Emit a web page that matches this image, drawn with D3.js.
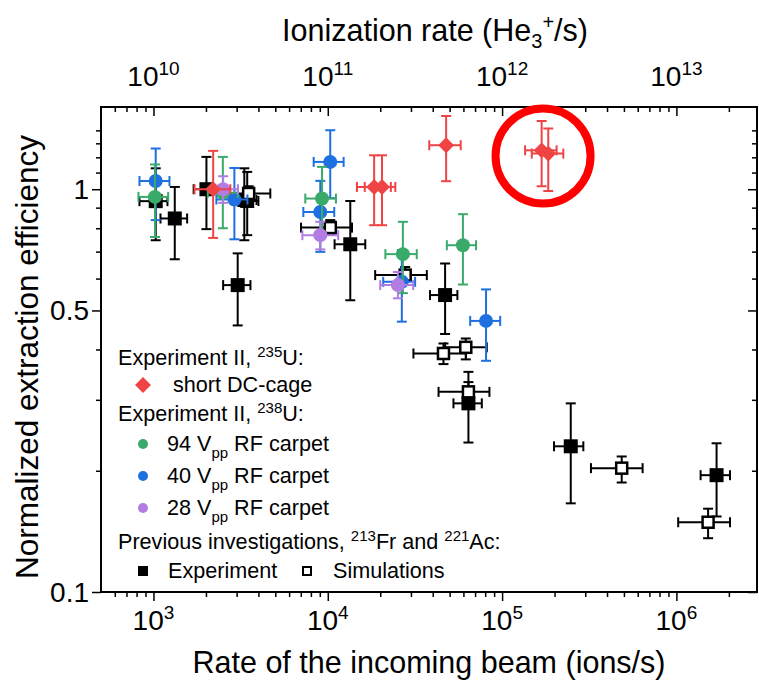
<!DOCTYPE html>
<html>
<head>
<meta charset="utf-8">
<script src="https://cdn.jsdelivr.net/npm/d3@7"></script>
<style>
body { margin: 0; background: #fff; }
text { font-family: "Liberation Sans", Arial, sans-serif; fill: #000; }
</style>
</head>
<body>
<div id="chart"></div>
<script>
// data, each row: [rate, efficiency, rate low, rate high, eff low, eff high]
var dcCage = [
    [2200, 1.0, 1720, 2760, 0.757, 1.245],
    [18450, 1.013, 14700, 23000, 0.814, 1.214],
    [20470, 1.013, 16300, 24400, 0.814, 1.214],
    [47750, 1.286, 38200, 57900, 1.047, 1.52],
    [168600, 1.249, 135500, 205500, 1.017, 1.477],
    [184000, 1.226, 148000, 224500, 0.99, 1.415]
]
var carpet94 = [
    [1020, 0.957, 820, 1214, 0.761, 1.152],
    [2500, 0.98, 2050, 3050, 0.8, 1.203],
    [9270, 0.948, 7430, 11140, 0.782, 1.136],
    [26970, 0.69, 21400, 32400, 0.552, 0.83],
    [59600, 0.726, 48200, 70900, 0.58, 0.867]
]
var carpet40 = [
    [1030, 1.048, 831, 1235, 0.838, 1.262],
    [2912, 0.943, 2296, 3460, 0.751, 1.129],
    [10330, 1.169, 8300, 12330, 0.95, 1.401],
    [9060, 0.878, 7240, 10890, 0.699, 1.049],
    [26600, 0.589, 20800, 31700, 0.469, 0.706],
    [80900, 0.471, 65600, 97500, 0.375, 0.564]
]
var carpet28 = [
    [2510, 1.0, 2200, 3050, 0.925, 1.077],
    [9060, 0.769, 7150, 11480, 0.709, 0.83],
    [25240, 0.578, 20000, 30900, 0.536, 0.623]
]
var prevExp = [
    [1030, 0.934, 831, 1203, 0.747, 1.127],
    [1325, 0.846, 1097, 1560, 0.67, 1.013],
    [2013, 1.0, 1700, 2390, 0.796, 1.203],
    [3320, 0.94, 3000, 3900, 0.747, 1.127],
    [3450, 0.935, 3150, 4000, 0.769, 1.104],
    [3042, 0.578, 2510, 3600, 0.459, 0.693],
    [13460, 0.73, 10940, 16410, 0.53, 0.935],
    [47100, 0.546, 38600, 55400, 0.437, 0.654],
    [64100, 0.294, 52600, 76500, 0.235, 0.332],
    [247700, 0.23, 198600, 292500, 0.166, 0.294],
    [1700000, 0.195, 1377000, 2030000, 0.154, 0.234]
]
var prevSim = [
    [3516, 0.976, 2620, 4680, 0.939, 1.017],
    [10340, 0.803, 7020, 13770, 0.773, 0.838],
    [27800, 0.612, 18700, 37000, 0.595, 0.641],
    [46100, 0.391, 31000, 62000, 0.368, 0.414],
    [61900, 0.405, 47100, 81700, 0.378, 0.426],
    [64100, 0.314, 43200, 84600, 0.298, 0.352],
    [485500, 0.203, 323500, 640000, 0.187, 0.217],
    [1520000, 0.149, 1024000, 2030000, 0.136, 0.161]
]

// axis labels
var bottomExps = [3, 4, 5, 6]
var topExps = [10, 11, 12, 13]
var yLabels = [0.1, 0.5, 1]
var yMinor = [0.2, 0.3, 0.4, 0.6, 0.7, 0.8, 0.9, 1.1, 1.2, 1.3, 1.4]
var ionFactor = 1e7

// circled point
var highlight = [171800, 1.209]

// colors
var red = '#f04444',
    green = '#3aaa6a',
    blue = '#1e6fe0',
    purple = '#b27de2'

// svg dimensions
var w = 759,
    h = 682,
    pl = 101,
    pr = 757,
    pt = 107,
    pb = 592

var svg = d3.select('#chart')
    .append('svg')
    .attr('width', w)
    .attr('height', h)

// scale
var xscale = d3.scaleLog()
    .domain([500, 2.9e6])
    .range([pl, pr])

var xtop = d3.scaleLog()
    .domain(xscale.domain().map(d => d * ionFactor))
    .range([pl, pr])

var yscale = d3.scaleLog()
    .domain([0.1, 1.6])
    .range([pb, pt])

var xmajor = bottomExps.map(e => Math.pow(10, e))
var xminor = xscale.ticks().filter(d => xmajor.indexOf(d) < 0 && d > 500)

// axis
function tickGroup(axis, tr) {
    var g = svg.append('g')
        .attr('transform', tr)
        .call(axis)
    g.select('.domain').remove()
    g.selectAll('line').attr('stroke-width', 1.5)
    return g
}

tickGroup(d3.axisBottom(xscale).tickValues(xmajor).tickSize(9).tickFormat(''), `translate(0,${pb})`)
tickGroup(d3.axisBottom(xscale).tickValues(xminor).tickSize(5).tickFormat(''), `translate(0,${pb})`)
tickGroup(d3.axisBottom(xtop).tickValues(xmajor.map(d => d * ionFactor)).tickSize(9).tickFormat(''), `translate(0,${pt})`)
tickGroup(d3.axisBottom(xtop).tickValues(xminor.map(d => d * ionFactor)).tickSize(5).tickFormat(''), `translate(0,${pt})`)
tickGroup(d3.axisLeft(yscale).tickValues(yLabels).tickSize(9).tickFormat(''), `translate(${pl},0)`)
tickGroup(d3.axisLeft(yscale).tickValues(yMinor).tickSize(5).tickFormat(''), `translate(${pl},0)`)
tickGroup(d3.axisRight(yscale).tickValues(yLabels).tickSize(-9).tickFormat(''), `translate(${pr},0)`)
tickGroup(d3.axisRight(yscale).tickValues(yMinor).tickSize(-5).tickFormat(''), `translate(${pr},0)`)

// frame
svg.append('rect')
    .attr('x', pl)
    .attr('y', pt)
    .attr('width', pr - pl)
    .attr('height', pb - pt)
    .attr('fill', 'none')
    .attr('stroke', '#000')
    .attr('stroke-width', 2)

// tick labels
function powLabel(x, y, e) {
    var t = svg.append('text')
        .attr('x', x)
        .attr('y', y)
        .attr('text-anchor', 'middle')
        .attr('font-size', 28)
    t.append('tspan').text('10')
    t.append('tspan').attr('dy', -11).attr('font-size', 19).text(e)
}

bottomExps.forEach(e => powLabel(xscale(Math.pow(10, e)), pb + 38, e))
topExps.forEach(e => powLabel(xtop(Math.pow(10, e)), pt - 21, e))

svg.selectAll('.ylab')
    .data(yLabels)
    .enter()
    .append('text')
    .attr('x', pl - 12)
    .attr('y', d => yscale(d) + 10)
    .attr('text-anchor', 'end')
    .attr('font-size', 28)
    .text(d => d)

// axis titles
svg.append('text')
    .attr('x', 429)
    .attr('y', h - 9)
    .attr('text-anchor', 'middle')
    .attr('font-size', 30.5)
    .text('Rate of the incoming beam (ions/s)')

var tt = svg.append('text')
    .attr('x', 435)
    .attr('y', 41)
    .attr('text-anchor', 'middle')
    .attr('font-size', 30.5)
tt.append('tspan').text('Ionization rate (He')
tt.append('tspan').attr('dy', 7).attr('font-size', 20).text('3')
tt.append('tspan').attr('dy', -19).attr('font-size', 20).text('+')
tt.append('tspan').attr('dy', 12).text('/s)')

svg.append('text')
    .attr('transform', `translate(38,357) rotate(-90)`)
    .attr('text-anchor', 'middle')
    .attr('font-size', 31.5)
    .text('Normalized extraction efficiency')

// error bars + markers
var cap = 5

function drawSeries(data, color, marker) {
    var g = svg.append('g')
    var eb = g.selectAll('.eb')
        .data(data)
        .enter()
        .append('g')
        .attr('stroke', color)
        .attr('stroke-width', 2)
    eb.append('line')
        .attr('x1', d => xscale(d[2])).attr('x2', d => xscale(d[3]))
        .attr('y1', d => yscale(d[1])).attr('y2', d => yscale(d[1]))
    eb.append('line')
        .attr('x1', d => xscale(d[0])).attr('x2', d => xscale(d[0]))
        .attr('y1', d => yscale(d[4])).attr('y2', d => yscale(d[5]))
    eb.append('line')
        .attr('x1', d => xscale(d[2])).attr('x2', d => xscale(d[2]))
        .attr('y1', d => yscale(d[1]) - cap).attr('y2', d => yscale(d[1]) + cap)
    eb.append('line')
        .attr('x1', d => xscale(d[3])).attr('x2', d => xscale(d[3]))
        .attr('y1', d => yscale(d[1]) - cap).attr('y2', d => yscale(d[1]) + cap)
    eb.append('line')
        .attr('x1', d => xscale(d[0]) - cap).attr('x2', d => xscale(d[0]) + cap)
        .attr('y1', d => yscale(d[4])).attr('y2', d => yscale(d[4]))
    eb.append('line')
        .attr('x1', d => xscale(d[0]) - cap).attr('x2', d => xscale(d[0]) + cap)
        .attr('y1', d => yscale(d[5])).attr('y2', d => yscale(d[5]))

    data.forEach(d => marker(g, xscale(d[0]), yscale(d[1]), color))
}

function square(g, x, y, c) {
    g.append('rect').attr('x', x - 7).attr('y', y - 7)
        .attr('width', 14).attr('height', 14).attr('fill', c)
}
function openSquare(g, x, y, c) {
    g.append('rect').attr('x', x - 5.5).attr('y', y - 5.5)
        .attr('width', 11).attr('height', 11)
        .attr('fill', '#fff').attr('stroke', c).attr('stroke-width', 2.5)
}
function dot(g, x, y, c) {
    g.append('circle').attr('cx', x).attr('cy', y).attr('r', 7).attr('fill', c)
}
function diamond(g, x, y, c) {
    g.append('rect').attr('x', -5.6).attr('y', -5.6)
        .attr('width', 11.2).attr('height', 11.2)
        .attr('transform', `translate(${x},${y}) rotate(45)`)
        .attr('fill', c)
}
function smallDot(g, x, y, c) {
    g.append('circle').attr('cx', x).attr('cy', y).attr('r', 5).attr('fill', c)
}

drawSeries(prevExp, '#000', square)
drawSeries(prevSim, '#000', openSquare)
drawSeries(carpet40, blue, dot)
drawSeries(carpet94, green, dot)
drawSeries(carpet28, purple, dot)
drawSeries(dcCage, red, diamond)

// red circle
svg.append('circle')
    .attr('cx', xscale(highlight[0]))
    .attr('cy', yscale(highlight[1]))
    .attr('r', 47.5)
    .attr('fill', 'none')
    .attr('stroke', '#ff0000')
    .attr('stroke-width', 8)

// legend
var lg = svg.append('g').attr('font-size', 21.6)
var lx = 118

function legendHead(y, pre, sup, post) {
    var t = lg.append('text').attr('x', lx).attr('y', y)
    t.append('tspan').text(pre)
    t.append('tspan').attr('dy', -8).attr('font-size', 15).text(sup)
    t.append('tspan').attr('dy', 8).text(post)
}
function legendRow(y, tx, label, color, marker) {
    marker(lg, 143, y - 7, color)
    var t = lg.append('text').attr('x', tx).attr('y', y)
    if (label[1]) {
        t.append('tspan').text(label[0])
        t.append('tspan').attr('dy', 7).attr('font-size', 15).text(label[1])
        t.append('tspan').attr('dy', -7).text(label[2])
    } else {
        t.text(label[0])
    }
}

legendHead(365, 'Experiment II, ', '235', 'U:')
legendRow(392, 173, ['short DC-cage'], red, diamond)
legendHead(421, 'Experiment II, ', '238', 'U:')
legendRow(451, 167, ['94 V', 'pp', ' RF carpet'], green, smallDot)
legendRow(483, 167, ['40 V', 'pp', ' RF carpet'], blue, smallDot)
legendRow(515, 167, ['28 V', 'pp', ' RF carpet'], purple, smallDot)

var pv = lg.append('text').attr('x', lx).attr('y', 549)
pv.append('tspan').text('Previous investigations, ')
pv.append('tspan').attr('dy', -8).attr('font-size', 15).text('213')
pv.append('tspan').attr('dy', 8).text('Fr and ')
pv.append('tspan').attr('dy', -8).attr('font-size', 15).text('221')
pv.append('tspan').attr('dy', 8).text('Ac:')

lg.append('rect').attr('x', 138).attr('y', 566).attr('width', 10).attr('height', 10).attr('fill', '#000')
lg.append('text').attr('x', 168).attr('y', 578).text('Experiment')
lg.append('rect').attr('x', 303).attr('y', 567).attr('width', 8).attr('height', 8)
    .attr('fill', '#fff').attr('stroke', '#000').attr('stroke-width', 2)
lg.append('text').attr('x', 333).attr('y', 578).text('Simulations')
</script>
</body>
</html>
